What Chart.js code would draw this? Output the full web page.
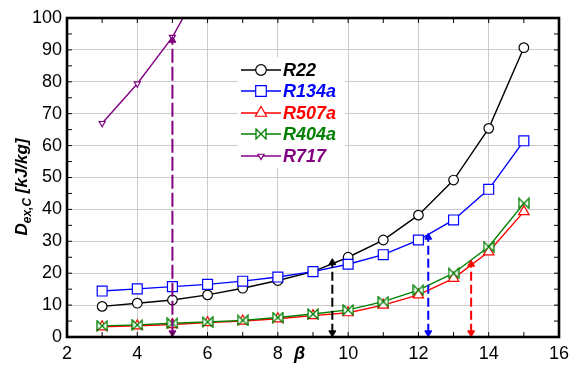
<!DOCTYPE html>
<html>
<head>
<meta charset="utf-8">
<script src="https://cdn.jsdelivr.net/npm/chart.js@4.4.1/dist/chart.umd.min.js"></script>
<style>
  body { margin: 0; background: #fff; }
  #wrap { width: 569px; height: 365px; position: relative; }
</style>
</head>
<body>
<div id="wrap"><canvas id="myChart"></canvas></div>
<script>
// data-block
const beta = [3, 4, 5, 6, 7, 8, 9, 10, 11, 12, 13, 14, 15];
const r22 = [9.6, 10.6, 11.6, 13.2, 15.3, 17.7, 20.5, 25.0, 30.4, 38.2, 49.2, 65.4, 90.7];
const r134a = [14.4, 15.1, 15.8, 16.5, 17.5, 18.8, 20.5, 22.8, 25.8, 30.4, 36.7, 46.3, 61.5];
const r507a = [3.2, 3.5, 3.9, 4.5, 5.0, 5.7, 6.7, 7.6, 10.0, 13.2, 18.4, 26.7, 39.3];
const r404a = [3.5, 3.8, 4.3, 4.7, 5.2, 6.1, 7.2, 8.5, 11.1, 14.7, 20.0, 28.3, 41.9];
const betaR717 = [3, 4, 5, 6];
const r717 = [67.0, 79.4, 94.0, 114.0];
// dashed arrows (beta position, top value)
const arrowBeta = [5.0, 9.55, 12.28, 13.5];
const arrowTop = [93.0, 23.3, 31.3, 22.8];
const arrowColors = ["#800080", "#000000", "#0000ff", "#ff0000"];
// labels
const seriesNames = ["R22", "R134a", "R507a", "R404a", "R717"];
const seriesColors = ["#000000", "#0000ff", "#ff0000", "#008000", "#800080"];
const xTickValues = [2, 4, 6, 8, 10, 12, 14, 16];
const yTickValues = [0, 10, 20, 30, 40, 50, 60, 70, 80, 90, 100];

const FONT = "'Liberation Sans', Arial, Helvetica, sans-serif";

// bowtie marker for R404a
const bowtie = document.createElement("canvas");
bowtie.width = 12;
bowtie.height = 12;
(function () {
  const c = bowtie.getContext("2d");
  c.beginPath();
  c.moveTo(1, 1);
  c.lineTo(11, 11);
  c.lineTo(11, 1);
  c.lineTo(1, 11);
  c.closePath();
  c.fillStyle = "#fff";
  c.fill();
  c.strokeStyle = "#008000";
  c.lineWidth = 1.3;
  c.stroke();
})();

const markers = [
  { pointStyle: "circle", radius: 4.8, rotation: 0 },
  { pointStyle: "rect", radius: 7, rotation: 0 },
  { pointStyle: "triangle", radius: 6, rotation: 0 },
  { pointStyle: bowtie, radius: 6, rotation: 0 },
  { pointStyle: "triangle", radius: 3.5, rotation: 180 },
];

function pts(xs, ys) {
  return xs.map((x, i) => ({ x: x, y: ys[i] }));
}

const seriesData = [pts(beta, r22), pts(beta, r134a), pts(beta, r507a), pts(beta, r404a), pts(betaR717, r717)];

// series datasets
const datasets = seriesData.map((d, i) => ({
  label: seriesNames[i],
  data: d,
  borderColor: seriesColors[i],
  backgroundColor: "#fff",
  borderWidth: 1.4,
  pointStyle: markers[i].pointStyle,
  pointRadius: markers[i].radius,
  pointRotation: markers[i].rotation,
  pointBorderColor: seriesColors[i],
  pointBackgroundColor: "#fff",
  pointBorderWidth: 1.2,
  order: 10 - i,
}));

// arrow datasets
arrowBeta.forEach((b, i) => {
  datasets.push({
    label: "arrow" + i,
    data: [{ x: b, y: 1.3 }, { x: b, y: arrowTop[i] }],
    borderColor: arrowColors[i],
    borderWidth: 2,
    borderDash: i == 0 ? [14, 4] : [9, 4],
    pointStyle: "triangle",
    pointRadius: 4,
    pointRotation: [180, 0],
    pointBorderColor: arrowColors[i],
    pointBackgroundColor: arrowColors[i],
    pointBorderWidth: 1,
    order: 0,
  });
});

// frame, inward ticks, legend and axis titles
const decor = {
  id: "decor",
  beforeDatasetsDraw(chart) {
    const ctx = chart.ctx;
    ctx.save();
    ctx.fillStyle = "#fff";
    ctx.fillRect(238, 57, 107, 111);
    ctx.restore();
  },
  afterDraw(chart) {
    const ctx = chart.ctx;
    const a = chart.chartArea;
    const xs = chart.scales.x;
    const ys = chart.scales.y;
    ctx.save();
    ctx.strokeStyle = "#000";
    ctx.lineWidth = 1;
    ctx.beginPath();
    for (let v = 3; v < 16; v++) {
      const px = xs.getPixelForValue(v);
      ctx.moveTo(px, a.bottom);
      ctx.lineTo(px, a.bottom - 5);
      ctx.moveTo(px, a.top);
      ctx.lineTo(px, a.top + 5);
    }
    for (let v = 5; v < 100; v += 5) {
      const py = ys.getPixelForValue(v);
      ctx.moveTo(a.left, py);
      ctx.lineTo(a.left + 5, py);
      ctx.moveTo(a.right, py);
      ctx.lineTo(a.right - 5, py);
    }
    ctx.stroke();
    ctx.lineWidth = 2.6;
    ctx.strokeRect(a.left, a.top, a.right - a.left, a.bottom - a.top);

    // legend
    const rows = [70, 91, 113, 134, 156];
    rows.forEach((ry, i) => {
      ctx.strokeStyle = seriesColors[i];
      ctx.lineWidth = 1.4;
      ctx.beginPath();
      ctx.moveTo(241, ry);
      ctx.lineTo(281, ry);
      ctx.stroke();
      ctx.fillStyle = "#fff";
      ctx.lineWidth = 1.2;
      Chart.helpers.drawPoint(ctx, {
        pointStyle: markers[i].pointStyle,
        radius: i == 4 ? 3.5 : markers[i].radius + 0.5,
        rotation: markers[i].rotation,
        borderWidth: 1.2,
      }, 261, ry);
      ctx.fillStyle = seriesColors[i];
      ctx.font = "italic bold 18px " + FONT;
      ctx.textBaseline = "middle";
      ctx.textAlign = "left";
      ctx.fillText(seriesNames[i], 283, ry + 1);
    });

    // x title
    ctx.fillStyle = "#000";
    ctx.font = "italic bold 18px " + FONT;
    ctx.textAlign = "center";
    ctx.textBaseline = "middle";
    ctx.fillText("\u03b2", xs.getPixelForValue(8.62), 354);

    // y title
    ctx.translate(21, 187);
    ctx.rotate(-Math.PI / 2);
    const big = "italic bold 17px " + FONT;
    const small = "italic bold 12px " + FONT;
    ctx.font = big;
    const w1 = ctx.measureText("D").width;
    const w3 = ctx.measureText(" [kJ/kg]").width;
    ctx.font = small;
    const w2 = ctx.measureText("ex,C").width;
    let tx = -(w1 + w2 + w3) / 2;
    ctx.textAlign = "left";
    ctx.textBaseline = "alphabetic";
    ctx.font = big;
    ctx.fillText("D", tx, 6);
    ctx.font = small;
    ctx.fillText("ex,C", tx + w1, 10);
    ctx.font = big;
    ctx.fillText(" [kJ/kg]", tx + w1 + w2, 6);
    ctx.restore();
  },
};

// config-block
const config = {
  type: "line",
  data: { datasets: datasets },
  options: {
    responsive: true,
    maintainAspectRatio: false,
    animation: false,
    events: [],
    layout: { padding: { left: 0, top: 18, right: 10, bottom: 0 } },
    scales: {
      x: {
        type: "linear",
        min: 2,
        max: 16,
        afterFit: (s) => {
          s.height = 28;
          s.paddingLeft = 0;
          s.paddingRight = 0;
        },
        afterBuildTicks: (s) => { s.ticks = xTickValues.map((v) => ({ value: v })); },
        grid: {
          color: (c) => (c.tick && (c.tick.value == 2 || c.tick.value == 16) ? "rgba(0,0,0,0)" : "#cccccc"),
          lineWidth: 1,
          drawTicks: false,
        },
        border: { display: false },
        ticks: { color: "#000", padding: 6, maxRotation: 0, font: { family: FONT, size: 18 } },
      },
      y: {
        min: 0,
        max: 100,
        afterFit: (s) => {
          s.width = 67;
          s.paddingTop = 0;
          s.paddingBottom = 0;
        },
        afterBuildTicks: (s) => { s.ticks = yTickValues.map((v) => ({ value: v })); },
        grid: {
          color: (c) => (c.tick && (c.tick.value == 0 || c.tick.value == 100) ? "rgba(0,0,0,0)" : "#cccccc"),
          lineWidth: 1,
          drawTicks: false,
        },
        border: { display: false },
        ticks: { color: "#000", padding: 5, font: { family: FONT, size: 18 } },
      },
    },
    plugins: {
      legend: { display: false },
      tooltip: { enabled: false },
    },
  },
  plugins: [decor],
};

// Render-block
var myChart = new Chart(document.getElementById("myChart"), config);
</script>
</body>
</html>
